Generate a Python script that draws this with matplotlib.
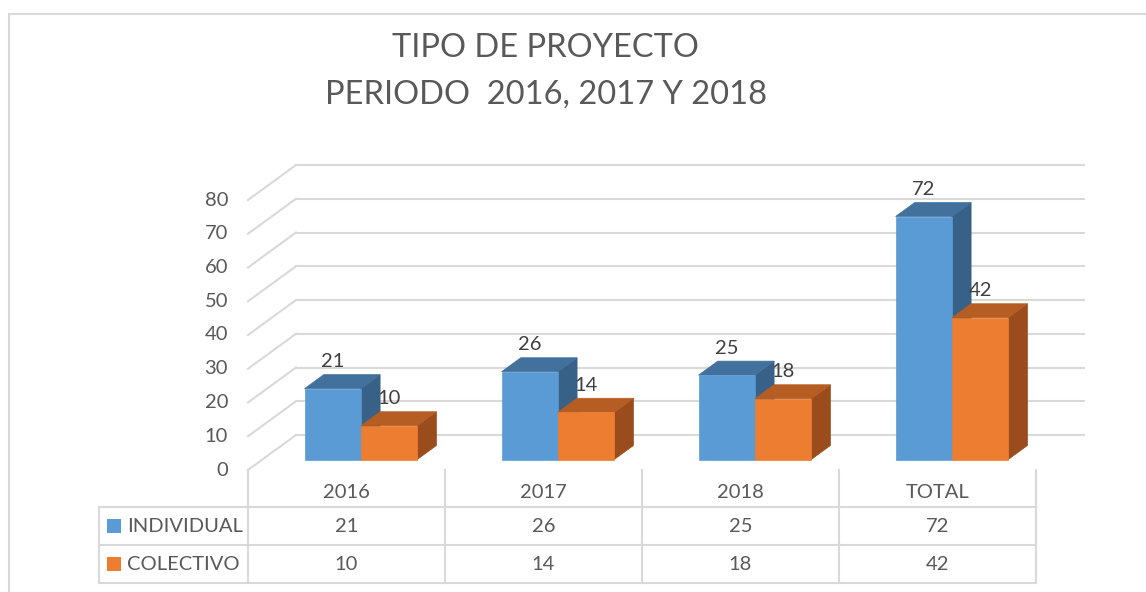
import matplotlib
matplotlib.use("Agg")
import matplotlib.pyplot as plt
from matplotlib.patches import Polygon, Rectangle

categories = ["2016", "2017", "2018", "TOTAL"]
individual = [21, 26, 25, 72]
colectivo = [10, 14, 18, 42]
series_names = ["INDIVIDUAL", "COLECTIVO"]
yticks = [0, 10, 20, 30, 40, 50, 60, 70, 80]

plt.rcParams['font.family'] = ['Lato', 'DejaVu Sans']

W, H = 1146, 592
X0, Y0 = 248, 470          # front-left corner of the floor, pixels
CAT_PX = 197               # pixels per category
VAL_PX = 3.375             # pixels per value unit
DX = 48 / CAT_PX           # depth offset, category units
DY = 35 / VAL_PX           # depth offset, value units
F0, FD = 0.3, 0.4          # bar start depth and bar depth (fractions)
BAR_W = 0.286

TXT = '#595959'
GRID = '#D9D9D9'
FS = 14.5
colors = {
    "INDIVIDUAL": ('#5B9BD5', '#41719C', '#386188'),
    "COLECTIVO": ('#ED7D31', '#B55D22', '#9A4C1C'),
}


def py(p):
    # pixel row -> value units (layout helper)
    return (Y0 - p) / VAL_PX


def px(p):
    return (p - X0) / CAT_PX


fig = plt.figure(figsize=(W / 100, H / 100), dpi=100)
ax = fig.add_axes([0, 0, 1, 1])
ax.set_xlim(px(0), px(W))
ax.set_ylim(py(H), py(0))
ax.axis('off')

# chart border
ax.add_patch(Rectangle((px(8.5), py(700)), px(1300) - px(8.5), py(13.5) - py(700),
                       fill=False, ec=GRID, lw=1.5))

# title
ax.text(px(545), py(48), "TIPO DE PROYECTO", ha='center', va='center',
        fontsize=23.5, color=TXT)
ax.text(px(546), py(95), "PERIODO  2016, 2017 Y 2018", ha='center', va='center',
        fontsize=23.5, color=TXT)

# gridlines: side wall + back wall
n = len(categories)
for v in yticks:
    ax.plot([0, DX], [v, v + DY], color=GRID, lw=1.5, zorder=1)
    ax.plot([DX, n + DX], [v + DY, v + DY], color=GRID, lw=1.5, zorder=1)
    ax.text(px(228), v, str(v), ha='right', va='center', fontsize=FS, color=TXT)


def draw_bar(a, b, h, cols):
    sx, sy = F0 * DX, F0 * DY
    dx, dy = FD * DX, FD * DY
    front = [(a + sx, sy), (b + sx, sy), (b + sx, sy + h), (a + sx, sy + h)]
    top = [(a + sx, sy + h), (b + sx, sy + h), (b + sx + dx, sy + h + dy), (a + sx + dx, sy + h + dy)]
    side = [(b + sx, sy), (b + sx + dx, sy + dy), (b + sx + dx, sy + h + dy), (b + sx, sy + h)]
    for poly, c in zip([side, top, front], [cols[2], cols[1], cols[0]]):
        ax.add_patch(Polygon(poly, closed=True, fc=c, ec=c, lw=0.5, zorder=3))
    ax.text((a + b) / 2 + sx, sy + h + dy + 1.3, str(h), ha='center', va='bottom',
            fontsize=FS, color='#404040', zorder=4)


for i in range(n):
    cx = i + 0.5
    draw_bar(cx - BAR_W, cx, individual[i], colors["INDIVIDUAL"])
    draw_bar(cx, cx + BAR_W, colectivo[i], colors["COLECTIVO"])

# data table
rows = [507, 545, 583]
left = px(99)
for r in rows:
    ax.plot([left, n], [py(r), py(r)], color=GRID, lw=1.5, zorder=1)
ax.plot([left, left], [py(507), py(583)], color=GRID, lw=1.5)
for i in range(n + 1):
    ax.plot([i, i], [0, py(583)], color=GRID, lw=1.5, zorder=1)

for i, c in enumerate(categories):
    ax.text(i + 0.5, py(493), c, ha='center', va='center', fontsize=FS, color=TXT)
    ax.text(i + 0.5, py(526), str(individual[i]), ha='center', va='center', fontsize=FS, color=TXT)
    ax.text(i + 0.5, py(564), str(colectivo[i]), ha='center', va='center', fontsize=FS, color=TXT)

for name, rc in zip(series_names, [526, 564]):
    ax.add_patch(Rectangle((px(107), py(rc + 7)), px(121) - px(107), py(rc - 7) - py(rc + 7),
                           fc=colors[name][0], ec='none'))
    ax.text(px(127), py(rc), name, ha='left', va='center', fontsize=FS, color=TXT)

fig.savefig("out.png", dpi=100)
